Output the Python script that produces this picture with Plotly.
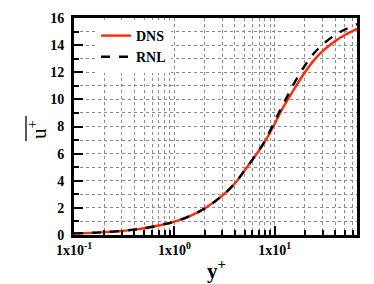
import plotly.graph_objects as go

yplus = [0.1, 0.15, 0.2, 0.3, 0.4, 0.5, 0.7, 1.0, 1.5, 2, 3, 4, 5, 6, 7, 8, 10, 12, 15, 20, 25, 30, 40, 50, 66]
u_dns = [0.12, 0.16, 0.21, 0.30, 0.40, 0.50, 0.70, 0.98, 1.47, 1.95, 2.9, 3.8, 4.75, 5.55, 6.25, 6.9, 8.2, 9.35, 10.55, 12.0, 12.95, 13.55, 14.3, 14.75, 15.2]
u_rnl = [0.12, 0.16, 0.21, 0.30, 0.40, 0.50, 0.70, 0.98, 1.47, 1.95, 2.9, 3.8, 4.75, 5.56, 6.27, 6.95, 8.4, 9.55, 10.95, 12.5, 13.45, 14.05, 14.75, 15.15, 15.55]

x_major = [0.1, 1, 10]
x_major_text = ["1x10<sup>-1</sup>", "1x10<sup>0</sup>", "1x10<sup>1</sup>"]
x_minor = [0.2, 0.3, 0.4, 0.5, 0.6, 0.7, 0.8, 0.9, 2, 3, 4, 5, 6, 7, 8, 9, 20, 30, 40, 50, 60]
y_major = [0, 2, 4, 6, 8, 10, 12, 14, 16]
y_minor = [1, 3, 5, 7, 9, 11, 13, 15]

serif = "Liberation Serif"
W, H = 374, 284
L, R, T, B = 66, 25, 10, 57
pw, ph = W - L - R, H - T - B


def px_x(p):
    return (p - L) / pw


def px_y(p):
    return (H - B - p) / ph


fig = go.Figure()
fig.add_trace(go.Scatter(x=yplus, y=u_dns, mode="lines", name="<b>DNS</b>",
                         line=dict(color="#ff2a0a", width=2.4), line_shape="spline"))
fig.add_trace(go.Scatter(x=yplus, y=u_rnl, mode="lines", name="<b>RNL</b>",
                         line=dict(color="black", width=2.4, dash="dash"), line_shape="spline"))

grid = dict(showgrid=True, gridcolor="#8a8a8a", griddash="dot", gridwidth=1)

fig.update_layout(
    width=W, height=H,
    margin=dict(l=L, r=R, t=T, b=B),
    paper_bgcolor="white", plot_bgcolor="white",
    font=dict(family=serif, color="black"),
    showlegend=True,
    legend=dict(x=px_x(88), y=px_y(12), xanchor="left", yanchor="top",
                bgcolor="white", font=dict(size=14, family=serif),
                tracegroupgap=0, itemwidth=30),
    xaxis=dict(
        type="log", range=[-1, 1.82], automargin=False,
        tickmode="array", tickvals=x_major, ticktext=x_major_text,
        tickfont=dict(size=14, family=serif, weight="bold"),
        ticks="inside", ticklen=9, tickwidth=2, tickcolor="black",
        showline=True, linewidth=3, linecolor="black", mirror=True,
        minor=dict(tickmode="array", tickvals=x_minor, ticks="inside", ticklen=5,
                   tickwidth=1.5, tickcolor="black", **grid),
        zeroline=False, **grid,
    ),
    yaxis=dict(
        range=[0, 16], automargin=False,
        tickmode="array", tickvals=y_major,
        tickfont=dict(size=14, family=serif, weight="bold"),
        ticks="inside", ticklen=9, tickwidth=2, tickcolor="black",
        ticklabelstandoff=4,
        showline=True, linewidth=3, linecolor="black", mirror=True,
        minor=dict(tickmode="array", tickvals=y_minor, ticks="inside", ticklen=5,
                   tickwidth=1.5, tickcolor="black", **grid),
        zeroline=False, **grid,
    ),
    annotations=[
        dict(text="u<sup>+</sup>", xref="paper", yref="paper", x=px_x(29), y=px_y(121),
             showarrow=False, textangle=-90, font=dict(size=21, family=serif),
             xanchor="center", yanchor="middle"),
        dict(text="<b>y<sup>+</sup></b>", xref="paper", yref="paper", x=px_x(208), y=px_y(261),
             showarrow=False, font=dict(size=21, family=serif),
             xanchor="center", yanchor="middle"),
    ],
    shapes=[
        dict(type="line", xref="paper", yref="paper", x0=px_x(18), x1=px_x(18),
             y0=px_y(108), y1=px_y(133), line=dict(color="black", width=1.3)),
    ],
)

fig.write_html("out.html")
